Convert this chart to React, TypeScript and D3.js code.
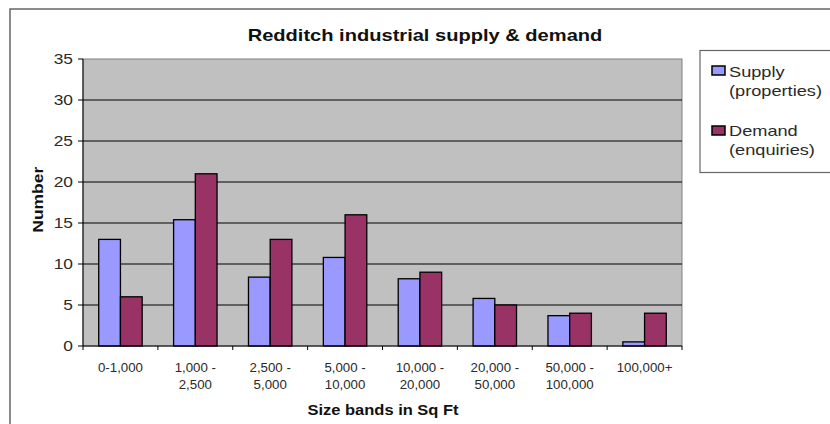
import React from "react";
import * as d3 from "d3";

const categories: string[][] = [
  ["0-1,000"],
  ["1,000 -", "2,500"],
  ["2,500 -", "5,000"],
  ["5,000 -", "10,000"],
  ["10,000 -", "20,000"],
  ["20,000 -", "50,000"],
  ["50,000 -", "100,000"],
  ["100,000+"],
];
const supply = [13, 15.4, 8.4, 10.8, 8.2, 5.8, 3.7, 0.5];
const demand = [6, 21, 13, 16, 9, 5, 4, 4];
const yTicks = [0, 5, 10, 15, 20, 25, 30, 35];
const seriesNames = [["Supply", "(properties)"], ["Demand", "(enquiries)"]];
const colors = ["#9999FF", "#993366"];

function T(props: { x: number; y: number; sx?: number; rot?: number; anchor?: string; size: number; bold?: boolean; children: any }) {
  const { x, y, sx = 1, rot = 0, anchor = "start", size, bold, children } = props;
  return (
    <text
      transform={`translate(${x},${y}) rotate(${rot}) scale(${sx},1)`}
      textAnchor={anchor}
      fontSize={size}
      fontWeight={bold ? "bold" : "normal"}
      fill={bold ? "#111" : "#2a2a2a"}
    >
      {children}
    </text>
  );
}

export default function App() {
  const W = 830, H = 424;
  const left = 83, right = 682, top = 59, bottom = 346;
  const font = "Arial, 'Liberation Sans', sans-serif";
  const x = d3.scaleBand<number>().domain(categories.map((_, i) => i)).range([left, right]).paddingInner(0.42).paddingOuter(0.21);
  const x1 = d3.scaleBand<number>().domain([0, 1]).range([0, x.bandwidth()]);
  const y = d3.scaleLinear().domain([0, 35]).range([bottom, top]);
  const step = (right - left) / categories.length;
  const series = [supply, demand];
  return (
    <svg width={W} height={H} style={{ position: "absolute", left: 0, top: 0, background: "#fff" }} fontFamily={font}>
      <rect x={10} y={9} width={W} height={H} fill="#fff" stroke="#666" strokeWidth={1.5} />
      <T x={425} y={40.7} sx={1.24} anchor="middle" size={16.2} bold>Redditch industrial supply &amp; demand</T>
      <rect x={left} y={top} width={right - left} height={bottom - top} fill="#C0C0C0" stroke="#808080" strokeWidth={1} />
      {yTicks.map((t) => (
        <g key={t}>
          {t > 0 && t < 35 && <line x1={left} x2={right} y1={y(t)} y2={y(t)} stroke="#000" strokeWidth={1} />}
          <line x1={left - 5} x2={left} y1={y(t)} y2={y(t)} stroke="#000" />
          <T x={73} y={y(t) + 5} sx={1.24} anchor="end" size={14}>{t}</T>
        </g>
      ))}
      <line x1={left} x2={left} y1={top} y2={bottom} stroke="#000" />
      {series.map((s, si) =>
        s.map((v, i) => (
          <rect key={si + "-" + i} x={(x(i) as number) + (x1(si) as number)} y={y(v)} width={x1.bandwidth()} height={bottom - y(v)} fill={colors[si]} stroke="#000" strokeWidth={1.3} />
        ))
      )}
      <line x1={left} x2={right} y1={bottom} y2={bottom} stroke="#000" />
      {d3.range(categories.length + 1).map((i) => (
        <line key={i} x1={left + i * step} x2={left + i * step} y1={bottom} y2={bottom + 4} stroke="#000" />
      ))}
      {categories.map((c, i) =>
        c.map((l, j) => (
          <T key={i + "-" + j} x={(x(i) as number) + x.bandwidth() / 2} y={371.7 + j * 17.6} sx={1.06} anchor="middle" size={12.5}>{l}</T>
        ))
      )}
      <T x={383} y={415} sx={1.1} anchor="middle" size={15} bold>Size bands in Sq Ft</T>
      <T x={42.7} y={199.7} sx={1.25} rot={-90} anchor="middle" size={14} bold>Number</T>
      <rect x={700} y={50.5} width={140} height={122} fill="#fff" stroke="#666" strokeWidth={1.2} />
      {seriesNames.map((n, i) => (
        <g key={i}>
          <rect x={712} y={66 + i * 60} width={13} height={9} fill={colors[i]} stroke="#000" strokeWidth={1.5} />
          <T x={729} y={76.7 + i * 59} sx={1.3} size={14}>{n[0]}</T>
          <T x={729} y={95.5 + i * 59.5} sx={1.3} size={14}>{n[1]}</T>
        </g>
      ))}
    </svg>
  );
}
